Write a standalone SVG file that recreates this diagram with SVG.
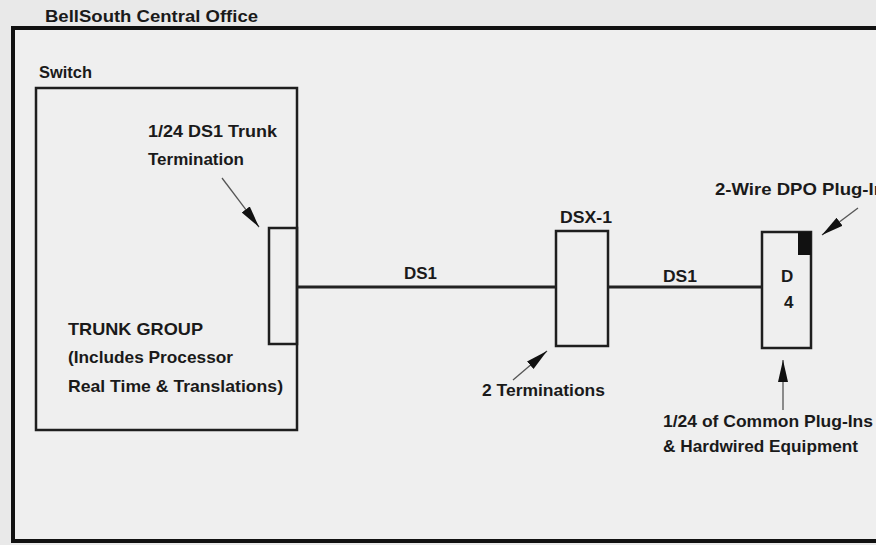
<svg xmlns="http://www.w3.org/2000/svg" width="876" height="545" viewBox="0 0 876 545">
  <style>
    .t { font-family: "Liberation Sans", Arial, sans-serif; font-weight: bold; font-size: 17px; fill: #1a1a1a; }
    .box { fill: none; stroke: #1e1e1e; stroke-width: 2.5; }
    .wire { stroke: #222; stroke-width: 3; fill: none; }
    .ptr { stroke: #555; stroke-width: 1.3; fill: none; marker-end: url(#head); }
  </style>
  <defs>
    <marker id="head" markerUnits="userSpaceOnUse" markerWidth="24" markerHeight="12" refX="22" refY="5.5" orient="auto">
      <path d="M0,0.5 L22,5.5 L0,10.5 z" fill="#111"/>
    </marker>
  </defs>
  <rect x="0" y="0" width="876" height="545" fill="#e9e9e9"/>

  <g id="central-office">
    <rect x="13" y="28" width="880" height="513" fill="#efefef" stroke="#111" stroke-width="4"/>
    <text class="t" x="45" y="22" textLength="213" lengthAdjust="spacingAndGlyphs">BellSouth Central Office</text>
  </g>

  <g id="switch">
    <text class="t" x="39" y="78" textLength="53" lengthAdjust="spacingAndGlyphs">Switch</text>
    <rect class="box" x="36" y="88" width="261" height="342" fill="#f2f2f2"/>
    <text class="t" x="68" y="335" textLength="135" lengthAdjust="spacingAndGlyphs">TRUNK GROUP</text>
    <text class="t" x="68" y="363" textLength="165" lengthAdjust="spacingAndGlyphs">(Includes Processor</text>
    <text class="t" x="68" y="392" textLength="215" lengthAdjust="spacingAndGlyphs">Real Time &amp; Translations)</text>
  </g>

  <g id="trunk-termination">
    <rect class="box" x="269" y="228" width="28" height="116"/>
    <text class="t" x="148" y="137" textLength="129" lengthAdjust="spacingAndGlyphs">1/24 DS1 Trunk</text>
    <text class="t" x="148" y="165" textLength="96" lengthAdjust="spacingAndGlyphs">Termination</text>
  </g>

  <g id="dsx1">
    <rect class="box" x="556" y="231" width="52" height="115"/>
    <text class="t" x="560" y="223" textLength="52" lengthAdjust="spacingAndGlyphs">DSX-1</text>
    <text class="t" x="482" y="396" textLength="123" lengthAdjust="spacingAndGlyphs">2 Terminations</text>
  </g>

  <g id="d4">
    <rect class="box" x="762" y="232" width="49" height="116"/>
    <rect x="798" y="232" width="13" height="23" fill="#111"/>
    <text class="t" x="781" y="282">D</text>
    <text class="t" x="784" y="308">4</text>
    <text class="t" x="715" y="195" textLength="170" lengthAdjust="spacingAndGlyphs">2-Wire DPO Plug-In</text>
    <text class="t" x="663" y="427" textLength="210" lengthAdjust="spacingAndGlyphs">1/24 of Common Plug-Ins</text>
    <text class="t" x="663" y="452" textLength="195" lengthAdjust="spacingAndGlyphs">&amp; Hardwired Equipment</text>
  </g>

  <g id="connectors">
    <line class="wire" x1="297" y1="287" x2="556" y2="287"/>
    <text class="t" x="404" y="279" textLength="33" lengthAdjust="spacingAndGlyphs">DS1</text>
    <line class="wire" x1="608" y1="287" x2="762" y2="287"/>
    <text class="t" x="663" y="282" textLength="34" lengthAdjust="spacingAndGlyphs">DS1</text>
    <line class="ptr" x1="222" y1="178" x2="259" y2="227"/>
    <line class="ptr" x1="513" y1="380" x2="547" y2="351"/>
    <line class="ptr" x1="858" y1="208" x2="822" y2="235"/>
    <line class="ptr" x1="783" y1="410" x2="783" y2="360"/>
  </g>
</svg>
